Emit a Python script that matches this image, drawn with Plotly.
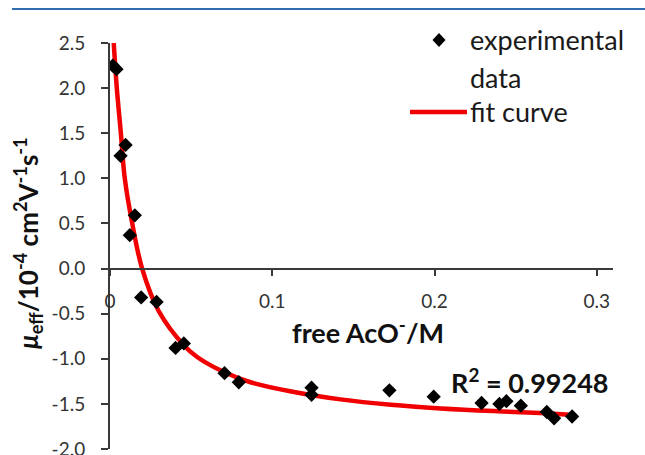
import plotly.graph_objects as go

# Measured effective mobility vs. free acetate concentration
exp_x = [0.0017, 0.0040, 0.0065, 0.0096, 0.0122, 0.0153, 0.0192, 0.0287,
         0.0404, 0.0455, 0.0706, 0.0794, 0.1242, 0.1242, 0.1722, 0.1995,
         0.2290, 0.2400, 0.2443, 0.2532, 0.2692, 0.2737, 0.2848]
exp_y = [2.25, 2.21, 1.25, 1.37, 0.37, 0.59, -0.32, -0.37,
         -0.88, -0.83, -1.16, -1.26, -1.32, -1.40, -1.35, -1.42,
         -1.49, -1.50, -1.47, -1.52, -1.59, -1.66, -1.64]

# Fitted curve, sampled along its length
fit_x = [0.0023, 0.0042, 0.0067, 0.0091, 0.0137, 0.0198, 0.0300, 0.0455,
         0.0537, 0.0706, 0.0866, 0.1110, 0.1420, 0.1730, 0.2040, 0.2365,
         0.2650, 0.2840]
fit_y = [2.50, 2.00, 1.50, 1.00, 0.50, 0.00, -0.47, -0.85,
         -0.98, -1.15, -1.26, -1.36, -1.45, -1.51, -1.55, -1.58,
         -1.60, -1.62]

x_tickvals = [0, 0.1, 0.2, 0.3]
x_ticktext = ["0", "0.1", "0.2", "0.3"]
y_tickvals = [2.5, 2.0, 1.5, 1.0, 0.5, 0.0, -0.5, -1.0, -1.5, -2.0]
y_ticktext = ["2.5", "2.0", "1.5", "1.0", "0.5", "0.0", "-0.5", "-1.0", "-1.5", "-2.0"]

r_squared = "0.99248"

W, H = 645, 455
L, R, T, B = 110, 32, 43, 6
PW, PH = W - L - R, H - T - B
X_RANGE = [0, 0.31]
Y_RANGE = [-2.0, 2.5]


def px(xp):
    return (xp - L) / PW


def py(yp):
    return (H - B - yp) / PH


FONT = "Lato, Carlito, 'Open Sans', sans-serif"
AXIS_COLOR = "#3a3a3a"
TICK_FONT = dict(size=19, color="#333333", family=FONT)

fig = go.Figure()
fig.add_trace(go.Scatter(x=fit_x, y=fit_y, mode="lines",
                         line=dict(color="#f00000", width=4.5, shape="spline"),
                         name="fit curve", showlegend=False))
fig.add_trace(go.Scatter(x=exp_x, y=exp_y, mode="markers",
                         marker=dict(symbol="diamond", size=11, color="black"),
                         name="experimental data", showlegend=False))

fig.update_layout(
    width=W, height=H,
    margin=dict(l=L, r=R, t=T, b=B, pad=0, autoexpand=False),
    paper_bgcolor="white", plot_bgcolor="white",
    font=dict(family=FONT, color="#333333", size=19),
    showlegend=False,
    xaxis=dict(range=X_RANGE, tickvals=x_tickvals, ticktext=x_ticktext,
               anchor="free", position=(0 - Y_RANGE[0]) / (Y_RANGE[1] - Y_RANGE[0]),
               showline=True, linecolor=AXIS_COLOR, linewidth=2,
               ticks="outside", ticklen=6, tickwidth=2, tickcolor=AXIS_COLOR,
               ticklabelstandoff=10, ticklabeloverflow="allow", automargin=False,
               showgrid=False, zeroline=False, tickfont=TICK_FONT),
    yaxis=dict(range=Y_RANGE, tickvals=y_tickvals, ticktext=y_ticktext,
               showline=True, linecolor=AXIS_COLOR, linewidth=2,
               ticks="outside", ticklen=7, tickwidth=2, tickcolor=AXIS_COLOR,
               ticklabelstandoff=12, ticklabeloverflow="allow", automargin=False,
               showgrid=False, zeroline=False, tickfont=TICK_FONT),
)

ann = []
# axis titles
ann.append(dict(text="<b><i>μ</i><sub>eff</sub>/10<sup>-4</sup> cm<sup>2</sup>V<sup>-1</sup>s<sup>-1</sup></b>",
                xref="paper", yref="paper", x=px(28), y=py(243), textangle=-90,
                xanchor="center", yanchor="middle", showarrow=False,
                font=dict(size=26, color="#111111", family=FONT)))
ann.append(dict(text="<b>free AcO<sup>-</sup>/M</b>",
                xref="paper", yref="paper", x=px(368), y=py(331),
                xanchor="center", yanchor="middle", showarrow=False,
                font=dict(size=27, color="#111111", family=FONT)))
# goodness of fit
ann.append(dict(text="<b>R<sup>2</sup> = " + r_squared + "</b>",
                xref="paper", yref="paper", x=px(611), y=py(381),
                xanchor="right", yanchor="middle", showarrow=False,
                font=dict(size=27, color="#111111", family=FONT)))
# legend entries
for txt, yc in [("experimental", 39), ("data", 78), ("fit curve", 111)]:
    ann.append(dict(text=txt, xref="paper", yref="paper", x=px(468), y=py(yc),
                    xanchor="left", yanchor="middle", showarrow=False,
                    font=dict(size=27, color="#1a1a1a", family=FONT)))
fig.update_layout(annotations=ann)

shapes = []
# top rule
shapes.append(dict(type="line", xref="paper", yref="paper",
                   x0=px(12), x1=px(645), y0=py(9), y1=py(9),
                   line=dict(color="#2f6eb0", width=2)))
# legend swatches
dx, dy = 6.5, 7
cx, cy = 439, 40
shapes.append(dict(type="path", xref="paper", yref="paper",
                   path=f"M {px(cx)} {py(cy - dy)} L {px(cx + dx)} {py(cy)} "
                        f"L {px(cx)} {py(cy + dy)} L {px(cx - dx)} {py(cy)} Z",
                   fillcolor="black", line=dict(width=0)))
shapes.append(dict(type="line", xref="paper", yref="paper",
                   x0=px(410), x1=px(467), y0=py(112), y1=py(112),
                   line=dict(color="#f00000", width=4.5)))
fig.update_layout(shapes=shapes)

fig.write_html("out.html")
